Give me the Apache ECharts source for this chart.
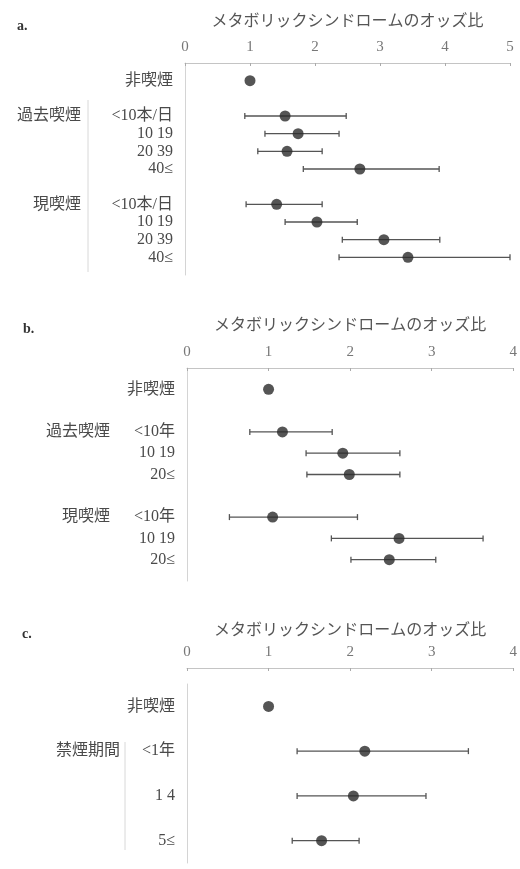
<!DOCTYPE html>
<html><head><meta charset="utf-8">
<script src="https://cdn.jsdelivr.net/npm/echarts@6/dist/echarts.min.js"></script>
<style>html,body{margin:0;padding:0;background:#fff}#c{width:520px;height:869px}</style>
</head><body><div id="c"></div>
<script>
// ---- data ----
const axisTitle = 'メタボリックシンドロームのオッズ比';
// panel a
const aLabels = ['非喫煙','<10本/日','10 19','20 39','40≤','<10本/日','10 19','20 39','40≤'];
const aGroups = ['','過去喫煙','','','','現喫煙','','',''];
const aOR   = [1.00, 1.54, 1.74, 1.57, 2.69, 1.41, 2.03, 3.06, 3.43];
const aLow  = [null, 0.92, 1.23, 1.12, 1.82, 0.94, 1.54, 2.42, 2.37];
const aHigh = [null, 2.48, 2.37, 2.11, 3.91, 2.11, 2.65, 3.92, 5.00];
const aTicks = [0,1,2,3,4,5];
// panel b
const bLabels = ['非喫煙','<10年','10 19','20≤','<10年','10 19','20≤'];
const bGroups = ['','過去喫煙','','','現喫煙','',''];
const bOR   = [1.00, 1.17, 1.91, 1.99, 1.05, 2.60, 2.48];
const bLow  = [null, 0.77, 1.46, 1.47, 0.52, 1.77, 2.01];
const bHigh = [null, 1.78, 2.61, 2.61, 2.09, 3.63, 3.05];
const bTicks = [0,1,2,3,4];
// panel c
const cLabels = ['非喫煙','<1年','1 4','5≤'];
const cGroups = ['','禁煙期間','',''];
const cOR   = [1.00, 2.18, 2.04, 1.65];
const cLow  = [null, 1.35, 1.35, 1.29];
const cHigh = [null, 3.45, 2.93, 2.11];
const cTicks = [0,1,2,3,4];

// ---- build ----
const FONT = "'Liberation Serif','Noto Sans CJK JP',serif";
const TXT = '#4a4a4a';

function buildCats(labels, groups, spacers){
  const cats = [], grp = [], idx = [];
  labels.forEach((l,i)=>{
    if (spacers && (i===0 || groups[i])) { cats.push('sp'+cats.length); grp.push(null); }
    idx.push(cats.length); cats.push(l); grp.push(groups[i]);
  });
  if (spacers) { cats.push('sp'+cats.length); grp.push(null); }
  return {cats, grp, idx};
}

const panels = [
  {labels:aLabels, groups:aGroups, or:aOR, lo:aLow, hi:aHigh, ticks:aTicks, spacers:true,
   grid:{left:185, right:10, top:63, height:212}, offset:0, nameGap:33, sW:92, letter:'a.', lx:12, ly:14},
  {labels:bLabels, groups:bGroups, or:bOR, lo:bLow, hi:bHigh, ticks:bTicks, spacers:true,
   grid:{left:187, right:5, top:368, height:213}, offset:0, nameGap:34, sW:65, letter:'b.', lx:18, ly:317},
  {labels:cLabels, groups:cGroups, or:cOR, lo:cLow, hi:cHigh, ticks:cTicks, spacers:false,
   grid:{left:187, right:5, top:684, height:179}, offset:16, nameGap:29, sW:55, letter:'c.', lx:17, ly:622}
];

const option = {backgroundColor:'#fff', animation:false, grid:[], xAxis:[], yAxis:[], series:[], title:[], graphic:[]};

panels.forEach((p,k)=>{
  const b = buildCats(p.labels, p.groups, p.spacers);
  option.grid.push(p.grid);
  option.title.push({text:p.letter, left:p.lx, top:p.ly,
    textStyle:{fontFamily:FONT, fontSize:14, fontWeight:'bold', color:'#333'}});
  option.xAxis.push({
    type:'value', gridIndex:k, position:'top', offset:p.offset,
    min:p.ticks[0], max:p.ticks[p.ticks.length-1], interval:1,
    name:axisTitle, nameLocation:'middle', nameGap:p.nameGap,
    nameTextStyle:{fontFamily:FONT, fontSize:16, color:'#555'},
    axisLine:{show:true, lineStyle:{color:'#c4c4c4', width:1}},
    axisTick:{show:true, inside:true, length:3, lineStyle:{color:'#aaa'}},
    axisLabel:{fontFamily:FONT, fontSize:15, color:'#777', margin:8},
    splitLine:{show:false}
  });
  option.yAxis.push({
    type:'category', gridIndex:k, inverse:true, data:b.cats,
    boundaryGap:!p.spacers,
    axisLine:{show:true, lineStyle:{color:'#d4d4d4'}},
    axisTick:{show:false}, splitLine:{show:false},
    axisLabel:{interval:0, margin:12,
      formatter:(v,i)=>{
        if (b.grp[i]===null) return '';
        const g = b.grp[i] ? '{g|'+b.grp[i]+'}' : '';
        return g + '{s|'+v+'}';
      },
      rich:{
        g:{fontFamily:FONT, fontSize:16, color:TXT, align:'right'},
        s:{fontFamily:FONT, fontSize:16, color:TXT, width:p.sW, align:'right'}
      }}
  });
  const ebData = [], dotData = [];
  p.labels.forEach((l,i)=>{
    if (p.lo[i]!=null && p.hi[i]!=null) ebData.push([p.lo[i], p.hi[i], b.idx[i]]);
    dotData.push([p.or[i], b.idx[i]]);
  });
  option.series.push({
    type:'custom', xAxisIndex:k, yAxisIndex:k, data:ebData,
    encode:{x:[0,1], y:2},
    renderItem:(params, api)=>{
      const y = api.value(2);
      const a = api.coord([api.value(0), y]);
      const c = api.coord([api.value(1), y]);
      const st = {stroke:'#555', lineWidth:1.3};
      const h = 3;
      return {type:'group', children:[
        {type:'line', shape:{x1:a[0], y1:a[1], x2:c[0], y2:c[1]}, style:st},
        {type:'line', shape:{x1:a[0], y1:a[1]-h, x2:a[0], y2:a[1]+h}, style:st},
        {type:'line', shape:{x1:c[0], y1:c[1]-h, x2:c[0], y2:c[1]+h}, style:st}
      ]};
    }
  });
  option.series.push({
    type:'scatter', xAxisIndex:k, yAxisIndex:k, data:dotData,
    symbol:'circle', symbolSize:11, itemStyle:{color:'#2a2a2a'}, z:3
  });
});

// group separator rules
option.graphic.push(
  {type:'line', shape:{x1:88, y1:100, x2:88, y2:272}, style:{stroke:'#d8d8d8', lineWidth:1}},
  {type:'line', shape:{x1:125, y1:742, x2:125, y2:850}, style:{stroke:'#d8d8d8', lineWidth:1}}
);

const chart = echarts.init(document.getElementById('c'), null, {renderer:'canvas'});
chart.setOption(option);
</script>
</body></html>
